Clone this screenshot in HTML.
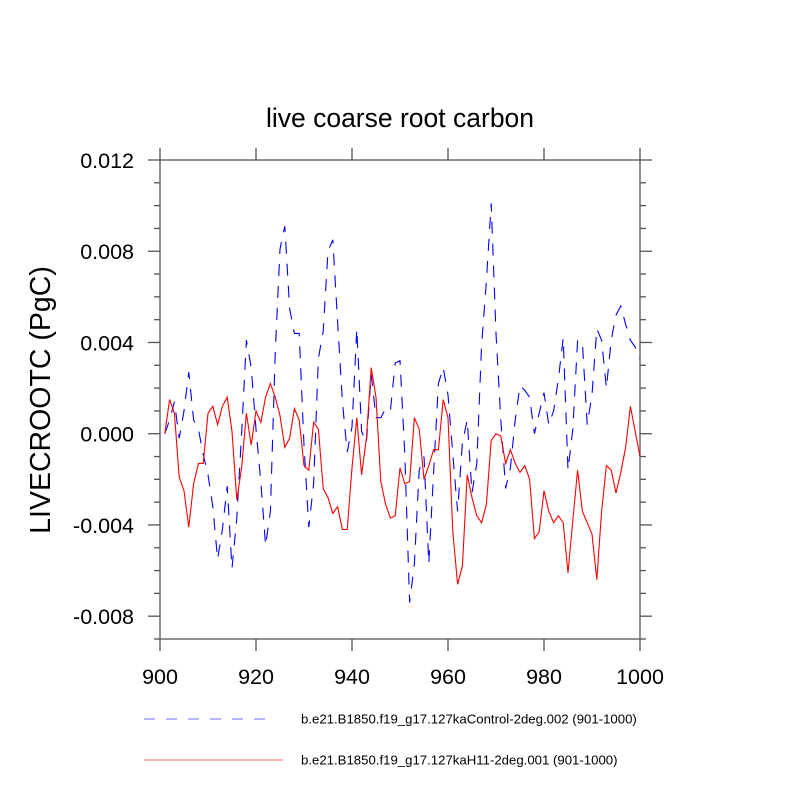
<!DOCTYPE html>
<html><head><meta charset="utf-8"><style>
body{margin:0;background:#fff;}
svg{display:block;font-family:"Liberation Sans",sans-serif;}
</style></head><body>
<svg id="chart" width="800" height="800" viewBox="0 0 800 800" xmlns="http://www.w3.org/2000/svg">
<rect width="800" height="800" fill="#fff"/>
<text x="400" y="127" font-size="26.5" text-anchor="middle">live coarse root carbon</text>
<text transform="translate(50,400) rotate(-90)" font-size="28.5" text-anchor="middle">LIVECROOTC  (PgC)</text>
<g id="axes"></g>
<g id="series"></g>
<g>
<line x1="144" y1="719" x2="276" y2="719" stroke="#6f6fff" stroke-width="1" stroke-dasharray="11,11"/>
<text x="301" y="723.5" font-size="13.2">b.e21.B1850.f19_g17.127kaControl-2deg.002 (901-1000)</text>
<line x1="144" y1="760" x2="283" y2="760" stroke="#f07070" stroke-width="1"/>
<text x="301" y="764.5" font-size="13.2">b.e21.B1850.f19_g17.127kaH11-2deg.001 (901-1000)</text>
</g>
</svg>
<script>
const years = Array.from({length:100},(_,i)=>901+i);
const controlValues = [0,0.6,1.4,-0.2,1.0,2.7,0.6,0.2,-0.9,-1.8,-3.2,-5.5,-4.2,-2.3,-5.9,-3.7,0,4.1,2.9,0.2,-2.1,-4.9,-3.4,3.5,8.1,9.1,5.5,4.4,4.4,-0.5,-4.1,-2.2,3.3,4.5,8.0,8.5,4.9,1.4,-0.8,0.3,4.6,0.1,-0.4,2.6,0.7,0.7,1.1,1.0,3.1,3.2,-0.9,-7.4,-5.7,-1.6,-1.0,-5.7,-1.7,2.2,2.9,1.7,-0.9,-3.4,-0.4,0.6,-2.6,-1.3,3.9,6.7,10.1,4.4,0.6,-2.4,-1.5,0.6,2.1,1.9,1.6,0.0,0.9,1.8,0.4,1.0,2.4,4.2,-1.6,0.2,4.1,4.0,0.4,1.7,4.6,4.1,2.0,4.1,5.2,5.6,4.8,4.1,3.8,3.3];
const h11Values = [0,1.5,0.9,-1.9,-2.5,-4.1,-2.2,-1.3,-1.3,0.9,1.2,0.4,1.2,1.6,0.1,-2.9,-1.5,0.9,-0.5,1.0,0.5,1.6,2.2,1.6,0.8,-0.6,-0.2,1.1,0.6,-1.4,-1.6,0.5,0.2,-2.4,-2.8,-3.5,-3.2,-4.2,-4.2,-1.5,0.7,-1.8,-0.2,2.9,1.6,-2.1,-3.1,-3.7,-3.6,-1.5,-2.2,-2.1,0.7,0.2,-2.0,-1.4,-0.7,-0.7,1.5,0.7,-4.3,-6.6,-5.8,-1.8,-2.8,-3.6,-3.9,-3.1,-0.3,0,-0.1,-1.3,-0.7,-1.3,-1.7,-1.4,-2.0,-4.6,-4.3,-2.5,-3.4,-3.9,-3.6,-3.9,-6.1,-3.8,-1.6,-3.4,-3.9,-4.4,-6.4,-3.4,-1.4,-1.6,-2.6,-1.7,-0.6,1.2,0.1,-1.0];
const xTicks = [900,920,940,960,980,1000];
const yTickLabels = ["0.012","0.008","0.004","0.000","-0.004","-0.008"];
const yTickValues = [0.012,0.008,0.004,0,-0.004,-0.008];

const L=160,R=640,T=160,B=639, X0=900,X1=1000,Y0=-0.009,Y1=0.012;
const sx=v=>L+(v-X0)/(X1-X0)*(R-L);
const sy=v=>B-(v-Y0)/(Y1-Y0)*(B-T);
const NS="http://www.w3.org/2000/svg";
function mk(tag,attrs,parent){const e=document.createElementNS(NS,tag);for(const k in attrs)e.setAttribute(k,attrs[k]);parent.appendChild(e);return e;}
const axes=document.getElementById('axes');
const frame=mk('rect',{x:L,y:T,width:R-L,height:B-T,fill:'none',stroke:'#555','stroke-width':1.3},axes);


const tc='#555';
xTicks.forEach(v=>{
  const x=sx(v);
  const t1=mk('line',{x1:x,y1:B,x2:x,y2:B+12,stroke:tc,'stroke-width':1.3},axes);
  
  
  mk('line',{x1:x,y1:T,x2:x,y2:T-12,stroke:tc,'stroke-width':1.3},axes);
  const lb=mk('text',{x:x,y:B+45,'font-size':21.5,'text-anchor':'middle'},axes);
  lb.textContent=v;
  
  
});
for(let k=-9;k<=12;k++){
  const v=k/1000,y=sy(v);const major=(k%4===0);
  const len=major?12:6;
  mk('line',{x1:L,y1:y,x2:L-len,y2:y,stroke:tc,'stroke-width':1.3},axes);
  mk('line',{x1:R,y1:y,x2:R+len,y2:y,stroke:tc,'stroke-width':1.3},axes);
}
yTickValues.forEach((v,i)=>{
  const lb=mk('text',{x:L-26,y:sy(v)+8,'font-size':21.5,'text-anchor':'end'},axes);
  lb.textContent=yTickLabels[i];
  
  
});
const series=document.getElementById('series');
function pts(vals){return vals.map((v,i)=>sx(years[i]).toFixed(1)+','+sy(v/1000).toFixed(1)).join(' ');}
const pc=mk('polyline',{points:pts(controlValues),fill:'none',stroke:'#0000ff','stroke-width':1.1,'stroke-dasharray':'12,10'},series);


const ph=mk('polyline',{points:pts(h11Values),fill:'none',stroke:'#ff0000','stroke-width':1.1},series);


</script>
</body></html>
